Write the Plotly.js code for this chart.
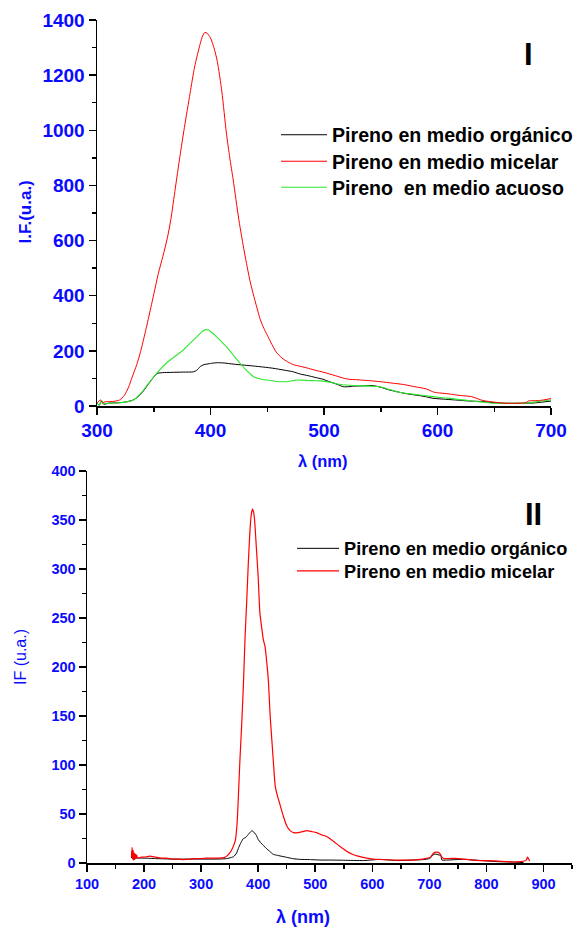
<!DOCTYPE html>
<html>
<head>
<meta charset="utf-8">
<script src="https://cdn.plot.ly/plotly-3.0.1.min.js"></script>
<style>html,body{margin:0;padding:0;background:#fff}#chart{width:576px;height:927px}</style>
</head>
<body>
<div id="chart"></div>
<script>
// ---------- Panel I data ----------
var seriesNamesI = ["Pireno en medio orgánico", "Pireno en medio micelar", "Pireno  en medio acuoso"];

var wlOrgI = [300,302,304,306,310,320,326,332,336,341,345,350,353,358,365,376,385,388,391,394,397,401,406,412,420,430,438,447,455,465,473,479,486,492,499,505,512,517,522,526,535,543,550,556,564,572,580,588,596,605,615,628,640,649,660,676,685,692,700];
var ifOrgI = [10,3,18,6,10,12,15,22,33,55,78,105,118,121,122,123,124,130,143,150,152,155,157,156,152,148,145,141,137,130,124,116,110,104,97,88,78,70,70,72,73,74,68,60,52,45,40,35,28,25,22,18,16,12,10,10,11,14,18,22];

var wlMicI = [300,303,305,307,310,315,320,324,328,331,335,338,342,346,350,354,358,362,365,369,373,377,382,386,391,393,395,397,400,403,406,410,414,417,420,425,430,435,440,444,447,450,453,458,463,468,473,478,485,492,500,510,520,530,540,550,560,570,580,590,597,600,610,620,630,640,650,660,670,678,680,690,700];
var ifMicI = [10,22,12,15,16,17,22,38,70,105,150,191,258,330,405,480,542,610,675,790,904,1010,1134,1230,1315,1342,1355,1352,1335,1300,1250,1140,990,900,820,675,555,450,370,312,282,257,232,195,174,160,150,145,138,130,122,110,98,95,92,88,83,78,70,62,50,48,44,38,34,20,14,10,10,12,18,20,27];

var wlAcuI = [300,302,304,306,310,320,326,332,336,341,345,350,355,361,368,376,382,388,392,395,398,402,406,410,414,420,426,432,438,444,450,457,464,470,475,480,490,497,505,512,520,530,540,549,556,564,572,580,588,596,605,615,628,640,649,660,676,685,692,700];
var ifAcuI = [10,3,20,8,10,12,15,22,35,58,80,106,130,155,178,203,228,251,268,276,276,264,248,232,215,185,155,128,106,98,94,90,88,90,94,94,92,91,86,80,76,74,72,70,62,52,46,42,38,34,30,26,19,14,10,10,10,14,18,22];

// ---------- Panel II data ----------
var seriesNamesII = ["Pireno en medio orgánico", "Pireno en medio micelar"];

var wlOrgII = [178,179,180,181,182,183,184,185,186,188,190,195,200,220,250,280,300,330,345,352,357,362,366,370,374,378,381,384,387,389,391,394,397,400,404,409,414,420,426,432,440,450,460,473,490,510,526,550,585,614,643,670,690,700,705,708,712,718,720,722,730,760,790,818,845,865];
var ifOrgII = [5,12,4,10,3,8,4,7,5,5,5,5,5,4.5,4,4,4,4,4.5,5.5,6.5,10,16,21,25,26,28,30,32,33,32,30.6,28,24,21,18,15,12,9,8,7,5.8,4.5,3.7,3.5,3,3,2.8,2.5,3.7,2.5,3,3.5,4.5,7,9,9,8,8,3,3,3.7,2.5,1.4,1,0.4];

var wlMicII = [178,179,180,181,182,183,184,185,186,187,188,190,195,200,210,220,230,240,250,260,270,280,290,300,310,320,330,340,345,350,355,360,363,365,368,371,374,377,380,383,386,388,390,392,394,397,400,403,406,409,412,415,418,421,424,427,430,434,438,444,450,456,462,470,478,485,494,502,510,520,530,543,555,565,575,590,605,620,640,660,680,695,702,707,712,718,722,726,735,745,760,775,790,805,820,835,850,860,866,870,872,874,876];
var ifMicII = [6,16,4,13,3,10,4,9,5,8,6,5,6,6,7,6,5,5,4,4,3.5,4,4.5,4.5,5,5,5,5.5,7,10,15,23,40,64,105,140,180,230,268,310,343,356,361,358,348,320,292,255,241,228,221,205,185,150,125,100,78,68,60,48,38,33,31,31,32,33,32,31,29,27,23,17,12,9,7,5,3.7,3.5,3,3,3.5,4.8,6,10,11,10,6,4.5,4.5,4.8,4,3,2.5,2.5,2,1.5,1,1.5,2,3,6,4,2];

// ---------- layout helpers ----------
var W = 576, H = 927, ML = 87, MR = 4, MT = 20, MB = 64;
var PW = W - ML - MR, PH = H - MT - MB;
function px(x){ return (x - ML) / PW; }
function py(y){ return (H - MB - y) / PH; }

var FONT = "Arial, 'Liberation Sans', Helvetica, sans-serif";
var BLUE = "#0a0aff";
var RED = "#ff0000", BLACK = "#000000", GREEN = "#2ee82e";

var traces = [
  {x: wlOrgI, y: ifOrgI, name: seriesNamesI[0], type: "scatter", mode: "lines", xaxis: "x", yaxis: "y",
   line: {color: BLACK, width: 1, shape: "spline", smoothing: 0.6}, legend: "legend"},
  {x: wlAcuI, y: ifAcuI, name: seriesNamesI[2], type: "scatter", mode: "lines", xaxis: "x", yaxis: "y",
   line: {color: GREEN, width: 1.1, shape: "spline", smoothing: 0.6}, legend: "legend3"},
  {x: wlMicI, y: ifMicI, name: seriesNamesI[1], type: "scatter", mode: "lines", xaxis: "x", yaxis: "y",
   line: {color: RED, width: 1, shape: "spline", smoothing: 0.7}, legend: "legend2"},
  {x: wlOrgII, y: ifOrgII, name: seriesNamesII[0], type: "scatter", mode: "lines", xaxis: "x2", yaxis: "y2",
   line: {color: BLACK, width: 1, shape: "spline", smoothing: 0.5}, legend: "legend4"},
  {x: wlMicII, y: ifMicII, name: seriesNamesII[1], type: "scatter", mode: "lines", xaxis: "x2", yaxis: "y2",
   line: {color: RED, width: 1.2, shape: "spline", smoothing: 0.5}, legend: "legend5"}
];

function axisBase(extra){
  var a = {showgrid: false, zeroline: false, showline: true, linecolor: "black", linewidth: 1.5,
           ticks: "outside", ticklen: 7, tickwidth: 1.5, tickcolor: "black", mirror: false,
           fixedrange: true, automargin: false};
  for (var k in extra) a[k] = extra[k];
  return a;
}

function legendAt(xpx, ypx, size, iw){
  return {x: px(xpx), y: py(ypx), xanchor: "left", yanchor: "middle", bgcolor: "rgba(0,0,0,0)",
    borderwidth: 0, font: {family: FONT, size: size, color: "black", weight: "bold"}, itemwidth: iw,
    tracegroupgap: 0};
}

var layout = {
  width: W, height: H,
  margin: {l: ML, r: MR, t: MT, b: MB, autoexpand: false},
  paper_bgcolor: "#fff", plot_bgcolor: "#fff",
  font: {family: FONT},
  showlegend: true,
  xaxis: axisBase({domain: [px(97), px(551)], range: [300, 700], anchor: "y", dtick: 100, tick0: 300,
    tickfont: {family: FONT, size: 19, color: BLUE, weight: "bold"},
    minor: {ticks: "outside", ticklen: 4, tickwidth: 1.5, tickcolor: "black", dtick: 50}}),
  yaxis: axisBase({domain: [py(406), 1], range: [0, 1400], anchor: "x", dtick: 200, tick0: 0,
    tickfont: {family: FONT, size: 19, color: BLUE, weight: "bold"},
    minor: {ticks: "outside", ticklen: 4, tickwidth: 1.5, tickcolor: "black", dtick: 100}}),
  xaxis2: axisBase({domain: [0, 1], range: [100, 950], anchor: "y2", dtick: 100, tick0: 100,
    tickfont: {family: FONT, size: 14.5, color: BLUE, weight: "bold"},
    minor: {ticks: "outside", ticklen: 4, tickwidth: 1.5, tickcolor: "black", dtick: 50}}),
  yaxis2: axisBase({domain: [0, py(471)], range: [0, 400], anchor: "x2", dtick: 50, tick0: 0,
    tickfont: {family: FONT, size: 14.5, color: BLUE, weight: "bold"},
    minor: {ticks: "outside", ticklen: 4, tickwidth: 1.5, tickcolor: "black", dtick: 25}}),
  legend:  legendAt(276, 135, 19.6, 46),
  legend2: legendAt(276, 161.5, 19.6, 46),
  legend3: legendAt(276, 187.5, 19.6, 46),
  legend4: legendAt(292, 548.5, 18.2, 42),
  legend5: legendAt(292, 571, 18.2, 42),
  annotations: [
    {text: "I", xref: "paper", yref: "paper", x: px(528), y: py(55), xanchor: "center", yanchor: "middle",
     showarrow: false, font: {family: FONT, size: 31, color: "black", weight: "bold"}},
    {text: "II", xref: "paper", yref: "paper", x: px(533), y: py(514), xanchor: "center", yanchor: "middle",
     showarrow: false, font: {family: FONT, size: 31, color: "black", weight: "bold"}},
    {text: "I.F.(u.a.)", xref: "paper", yref: "paper", x: px(25), y: py(212.5), xanchor: "center", yanchor: "middle",
     textangle: -90, showarrow: false, font: {family: FONT, size: 17, color: BLUE, weight: "bold"}},
    {text: "λ (nm)", xref: "paper", yref: "paper", x: px(322.5), y: py(461), xanchor: "center", yanchor: "middle",
     showarrow: false, font: {family: FONT, size: 16.5, color: BLUE, weight: "bold"}},
    {text: "IF (u.a.)", xref: "paper", yref: "paper", x: px(20), y: py(657), xanchor: "center", yanchor: "middle",
     textangle: -90, showarrow: false, font: {family: FONT, size: 16, color: BLUE}},
    {text: "λ (nm)", xref: "paper", yref: "paper", x: px(303), y: py(917), xanchor: "center", yanchor: "middle",
     showarrow: false, font: {family: FONT, size: 18, color: BLUE, weight: "bold"}}
  ]
};

Plotly.newPlot("chart", traces, layout, {displayModeBar: false, staticPlot: true});
</script>
</body>
</html>
